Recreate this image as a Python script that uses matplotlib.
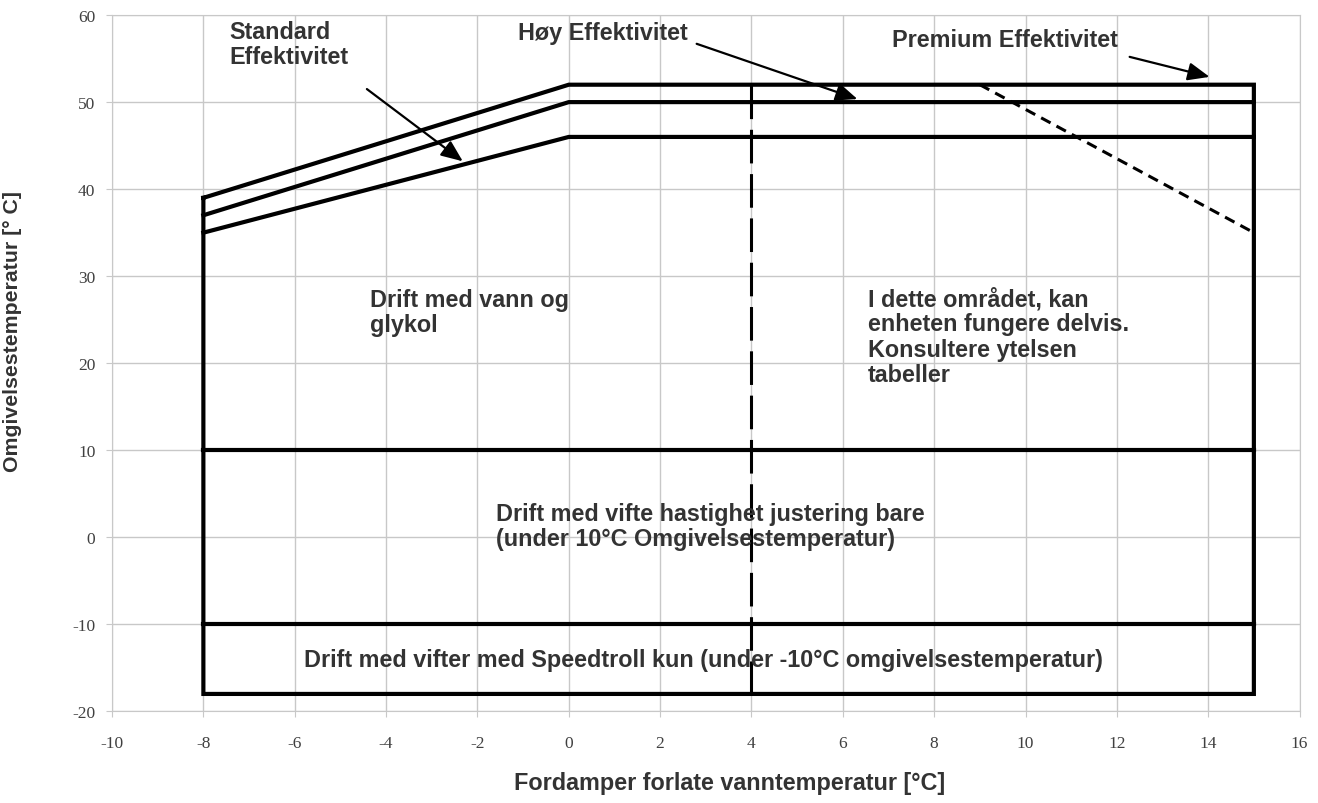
import matplotlib.pyplot as plt

plt.rcParams['axes.unicode_minus'] = False

# envelope corners (evaporator leaving water temp, ambient temp)
premium_x = [-8, 0, 15, 15, -8, -8]
premium_y = [39, 52, 52, -18, -18, 39]
high_x = [-8, 0, 15]
high_y = [37, 50, 50]
standard_x = [-8, 0, 15]
standard_y = [35, 46, 46]
limit_10_x = [-8, 15]
limit_10_y = [10, 10]
limit_m10_x = [-8, 15]
limit_m10_y = [-10, -10]
partial_x = [4, 4]
partial_y = [52, -18]
derate_x = [9, 15]
derate_y = [52, 35]

x_ticks = list(range(-10, 17, 2))
y_ticks = list(range(-20, 61, 10))

text_color = '#333333'
grid_color = '#c8c8c8'

fig = plt.figure(figsize=(13.18, 8.04), dpi=100)
ax = fig.add_axes([0.085, 0.114, 0.901, 0.866])

ax.set_xlim(-10, 16)
ax.set_ylim(-20, 60)
ax.set_xticks(x_ticks)
ax.set_yticks(y_ticks)
ax.grid(True, color=grid_color, lw=1)
ax.set_axisbelow(True)
for s in ax.spines.values():
    s.set_color(grid_color)
ax.tick_params(colors=grid_color, length=4, labelcolor='#404040', labelsize=12.5)
ax.tick_params(axis='x', pad=13)
ax.tick_params(axis='y', pad=8)
for lab in ax.get_xticklabels() + ax.get_yticklabels():
    lab.set_family('Liberation Serif')

ax.plot(premium_x, premium_y, color='black', lw=3, solid_joinstyle='miter')
ax.plot(high_x, high_y, color='black', lw=3)
ax.plot(standard_x, standard_y, color='black', lw=3)
ax.plot(limit_10_x, limit_10_y, color='black', lw=3)
ax.plot(limit_m10_x, limit_m10_y, color='black', lw=3)
ax.plot(partial_x, partial_y, color='black', lw=2.2, dashes=(11, 3.5))
ax.plot(derate_x, derate_y, color='black', lw=2.2, dashes=(3.5, 2.2))

tkw = dict(fontsize=16.8, fontweight='bold', color=text_color, family='Liberation Sans', linespacing=1.12)
arrow = dict(arrowstyle='-|>,head_length=0.6,head_width=0.25', lw=1.6, color='black',
             mutation_scale=22, shrinkA=0, shrinkB=0)

ax.annotate('', xy=(-2.32, 43.2), xytext=(-4.42, 51.5), arrowprops=arrow)
ax.annotate('', xy=(6.32, 50.35), xytext=(2.8, 56.7), arrowprops=arrow)
ax.annotate('', xy=(14.03, 52.9), xytext=(12.28, 55.2), arrowprops=arrow)

ax.text(-7.42, 56.7, 'Standard\nEffektivitet', ha='left', va='center', **tkw)
ax.text(-1.12, 58.0, 'Høy Effektivitet', ha='left', va='center', **tkw)
ax.text(7.07, 57.2, 'Premium Effektivitet', ha='left', va='center', **tkw)

ax.text(-4.35, 25.9, 'Drift med vann og\nglykol', ha='left', va='center', **tkw)
ax.text(6.55, 23.1, 'I dette området, kan\nenheten fungere delvis.\nKonsultere ytelsen\ntabeller',
        ha='left', va='center', **tkw)
ax.text(-1.6, 1.3, 'Drift med vifte hastighet justering bare\n(under 10°C Omgivelsestemperatur)',
        ha='left', va='center', **tkw)
ax.text(-5.8, -14.0, 'Drift med vifter med Speedtroll kun (under -10°C omgivelsestemperatur)',
        ha='left', va='center', **tkw)

ax.set_xlabel('Fordamper forlate vanntemperatur [°C]', fontsize=16.8, fontweight='bold',
              color=text_color, family='Liberation Sans')
ax.xaxis.set_label_coords(0.52, -0.085)
ax.set_ylabel('Omgivelsestemperatur [° C]', fontsize=15.3, fontweight='bold',
              color=text_color, family='Liberation Sans')
ax.yaxis.set_label_coords(-0.076, 0.547)

fig.savefig('out.png', dpi=100)
